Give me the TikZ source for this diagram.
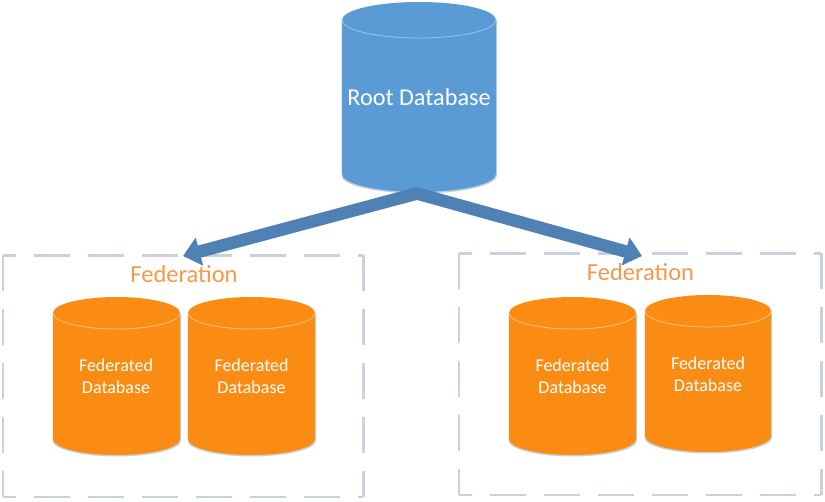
\documentclass[tikz,border=0pt]{standalone}
\usepackage{fontspec}
\setmainfont{Carlito}
\usetikzlibrary{arrows.meta}
\definecolor{rootblue}{HTML}{5B9BD5}
\definecolor{arrowblue}{HTML}{4F81B5}
\definecolor{fedorange}{HTML}{FA8C14}
\definecolor{fedtext}{HTML}{F2994A}
\definecolor{dashgrey}{HTML}{C9D1DC}
\definecolor{shadowgrey}{HTML}{C8D0DC}
\tikzset{
  fedbox/.style={minimum width=#1,inner sep=0pt},
  hdash/.style={draw=dashgrey,line width=2.6pt,dash pattern=on 36pt off 18pt,dash phase=23pt},
  vdash/.style={draw=dashgrey,line width=2.6pt,dash pattern=on 36pt off 18pt,dash phase=0pt},
  cyltext/.style={text=white,align=center,font=\fontsize{18}{22}\selectfont,inner sep=0pt},
  fedlabel/.style={text=fedtext,font=\fontsize{24.5}{26}\selectfont,inner sep=0pt},
  roottext/.style={text=white,font=\fontsize{24.2}{28}\selectfont,inner sep=0pt},
  flowarrow/.style={draw=arrowblue,line width=12.5pt,line join=round,
    {Triangle[length=17pt,width=28pt]}-{Triangle[length=17pt,width=28pt]}}
}
% #1 left x, #2 right x, #3 top y, #4 bottom y, #5 ry, #6 fill, #7 rim colour
\newcommand{\dbcyl}[7]{%
  \pgfmathsetmacro{\cx}{(#1+#2)/2}%
  \pgfmathsetmacro{\rx}{(#2-#1)/2}%
  \pgfmathsetmacro{\ty}{#3+#5}%
  \pgfmathsetmacro{\by}{#4-#5}%
  \fill[shadowgrey] (#1-0.5,\ty) -- (#1-0.5,\by+1.5) arc[start angle=180,end angle=0,x radius=\rx+0.75,y radius=#5] -- (#2+1,\ty) -- cycle;
  \fill[#6] (#1,\ty) arc[start angle=180,end angle=360,x radius=\rx,y radius=#5]
     -- (#2,\by) arc[start angle=0,end angle=180,x radius=\rx,y radius=#5] -- cycle;
  \draw[#7,line width=0.8pt] (#1,\ty) arc[start angle=180,end angle=0,x radius=\rx,y radius=#5];
}
\newcommand{\frameedges}[1]{%
  \draw[hdash] (#1.north west) -- (#1.north east);
  \draw[hdash] (#1.south west) -- (#1.south east);
  \draw[vdash] (#1.north west) -- (#1.south west);
  \draw[vdash] (#1.north east) -- (#1.south east);
}
\begin{document}
\begin{tikzpicture}[x=1pt,y=-1pt]
\useasboundingbox (0,0) rectangle (825,502);
% federation frames
\node[fedbox=360pt,minimum height=241pt,anchor=north west] (frameL) at (3,255.5) {};
\node[fedbox=362pt,minimum height=241pt,anchor=north west] (frameR) at (459,253.5) {};
\frameedges{frameL}
\frameedges{frameR}
% cylinders
\dbcyl{342}{496}{2}{192}{18}{rootblue}{rootblue!60!white}
\dbcyl{53}{180}{297}{455}{16}{fedorange}{fedorange!55!white}
\dbcyl{188}{315}{297}{455}{16}{fedorange}{fedorange!55!white}
\dbcyl{509}{636}{297}{455}{16}{fedorange}{fedorange!55!white}
\dbcyl{645}{771}{295}{452}{16}{fedorange}{fedorange!55!white}
% labels
\node[roottext] (root) at (419,97) {Root Database};
\node[fedlabel] (fedL) at (184,274.5) {Federation};
\node[fedlabel] (fedR) at (640.5,272.5) {Federation};
\node[cyltext] (db1) at (116,376) {Federated\\Database};
\node[cyltext] (db2) at (251.5,376) {Federated\\Database};
\node[cyltext] (db3) at (572.5,376) {Federated\\Database};
\node[cyltext] (db4) at (708,374) {Federated\\Database};
% connectors
\coordinate (apex) at (417,193.5);
\coordinate (tipL) at (183,256);
\coordinate (tipR) at (642,256);
\draw[flowarrow] (tipL) -- (apex) -- (tipR);
\end{tikzpicture}
\end{document}
